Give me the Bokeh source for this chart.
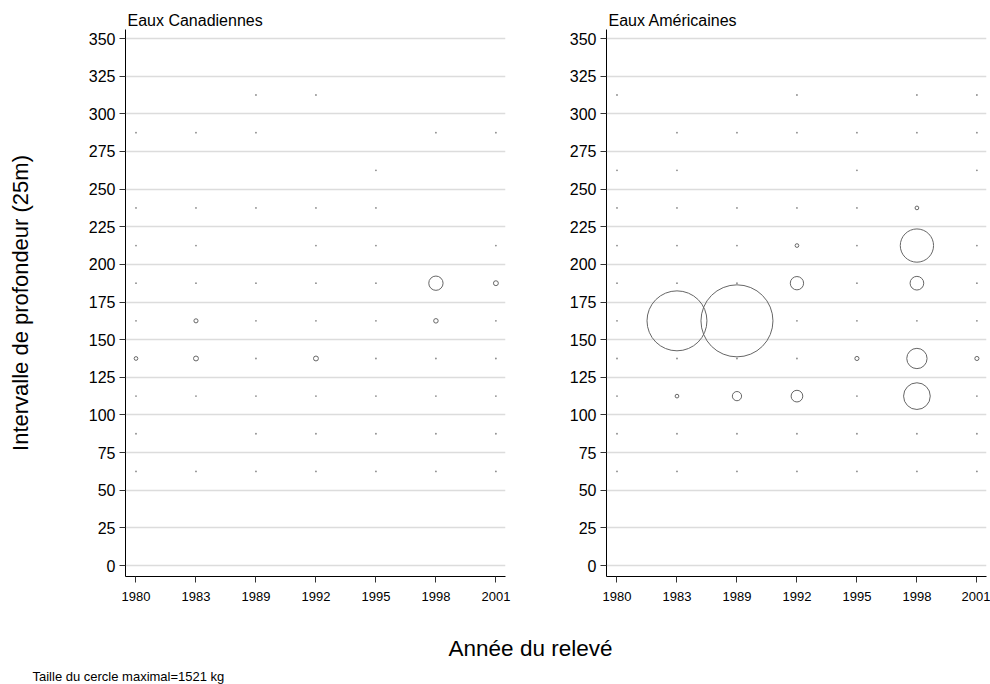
from bokeh.plotting import figure
from bokeh.models import Range1d, FixedTicker, ColumnDataSource
from bokeh.layouts import column, row
from bokeh.embed import file_html
from bokeh.resources import INLINE
from bokeh.core.properties import value

FONT = "Liberation Sans"

# Survey years (equally spaced categories on the x axis)
years = ["1980", "1983", "1989", "1992", "1995", "1998", "2001"]
# Depth-bin midpoints (25 m bins), top row first
depth_bins = [312.5, 287.5, 262.5, 237.5, 212.5, 187.5, 162.5, 137.5, 112.5, 87.5, 62.5]
depth_ticks = [0, 25, 50, 75, 100, 125, 150, 175, 200, 225, 250, 275, 300, 325, 350]

# Catch (kg) per depth bin and year; None = no tow in that cell
can_kg = [
    [None, None, 0, 0, None, None, None],
    [0, 0, 0, None, None, 0, 0],
    [None, None, None, None, 0, None, None],
    [0, 0, 0, 0, 0, None, None],
    [0, 0, None, 0, 0, None, 0],
    [0, 0, 0, 0, 0, 60, 7],
    [0, 5, 0, 0, 0, 6, 0],
    [4, 7, 0, 7, 0, 0, 0],
    [0, 0, 0, 0, 0, 0, 0],
    [0, None, 0, 0, 0, 0, 0],
    [0, 0, 0, 0, 0, 0, 0],
]
usa_kg = [
    [0, None, None, 0, None, 0, 0],
    [None, 0, 0, 0, 0, 0, 0],
    [0, 0, None, None, 0, None, 0],
    [0, 0, 0, 0, 0, 4, None],
    [0, 0, 0, 4, 0, 325, 0],
    [0, 0, 0, 52, 0, 55, 0],
    [0, 1054, 1521, 0, 0, 0, 0],
    [0, 0, 0, 0, 5, 121, 5],
    [0, 4, 25, 40, 0, 209, 0],
    [0, 0, 0, 0, 0, 0, 0],
    [0, 0, 0, 0, 0, 0, 0],
]

MAX_KG = 1521          # catch drawn with the largest circle
MAX_DIAM_PX = 72       # diameter of that circle on screen


def split_cells(grid):
    """Return (positive catches, zero catches) as column dicts."""
    pos = dict(x=[], y=[], kg=[], size=[])
    zero = dict(x=[], y=[])
    for depth, vals in zip(depth_bins, grid):
        for i, kg in enumerate(vals):
            if kg is None:
                continue
            if kg > 0:
                pos["x"].append(i)
                pos["y"].append(depth)
                pos["kg"].append(kg)
                # circle area proportional to catch
                pos["size"].append(MAX_DIAM_PX * (kg / MAX_KG) ** 0.5)
            else:
                zero["x"].append(i)
                zero["y"].append(depth)
    return pos, zero


def make_panel(title, grid, width, border_left, border_right, ylabel=None):
    p = figure(
        width=width, height=610,
        x_range=Range1d(-0.175, 6.16), y_range=Range1d(-7.3, 356),
        min_border_left=border_left, min_border_right=border_right,
        min_border_top=29, min_border_bottom=34,
        output_backend="svg", toolbar_location=None,
        title=title,
    )
    p.title.text_font = FONT
    p.title.text_font_size = "16px"
    p.title.text_font_style = "normal"
    p.title.text_color = "black"
    p.title.align = "left"
    p.title.offset = 2
    p.title.standoff = 2

    p.outline_line_color = None
    p.background_fill_color = "white"
    p.border_fill_color = "white"
    p.xgrid.grid_line_color = None
    p.ygrid.grid_line_color = "#dcdcdc"
    p.ygrid.grid_line_width = 1.6

    p.yaxis.ticker = FixedTicker(ticks=depth_ticks)
    p.xaxis.ticker = FixedTicker(ticks=list(range(len(years))))
    p.xaxis.major_label_overrides = {i: y for i, y in enumerate(years)}

    for ax in (p.xaxis[0], p.yaxis[0]):
        ax.axis_line_color = "black"
        ax.axis_line_width = 1
        ax.major_tick_line_color = "#333333"
        ax.major_tick_in = 0
        ax.major_tick_out = 6
        ax.minor_tick_line_color = None
        ax.major_label_text_font = FONT
        ax.major_label_text_color = "black"
    p.xaxis.major_label_text_font_size = "13px"
    p.xaxis.major_label_standoff = 9
    p.yaxis.major_label_text_font_size = "16px"
    p.yaxis.major_label_standoff = 4

    if ylabel:
        p.yaxis.axis_label = ylabel
        p.yaxis.axis_label_text_font = FONT
        p.yaxis.axis_label_text_font_size = "22px"
        p.yaxis.axis_label_text_font_style = "normal"
        p.yaxis.axis_label_text_color = "black"
        p.yaxis.axis_label_standoff = 53

    pos, zero = split_cells(grid)
    p.scatter("x", "y", source=ColumnDataSource(zero), marker="circle",
              size=1.8, fill_color="#8a8a8a", line_color=None)
    p.scatter("x", "y", source=ColumnDataSource(pos), marker="circle",
              size="size", fill_color=None, line_color="#666666", line_width=1)
    return p


p1 = make_panel("Eaux Canadiennes", can_kg, 540, 125, 35,
                ylabel="Intervalle de profondeur (25m)")
p2 = make_panel("Eaux Américaines", usa_kg, 450, 66, 4)

# Shared x-axis title and the note on circle scale
notes = figure(width=990, height=74, x_range=Range1d(0, 990), y_range=Range1d(0, 74),
               x_axis_type=None, y_axis_type=None, min_border=0,
               output_backend="svg", toolbar_location=None)
notes.outline_line_color = None
notes.xgrid.grid_line_color = None
notes.ygrid.grid_line_color = None
notes.text(x=[530], y=[36], text=["Année du relevé"], text_font=value(FONT),
           text_font_size="22.5px", text_align="center", text_baseline="middle",
           text_color="black")
notes.text(x=[32], y=[8], text=["Taille du cercle maximal=1521 kg"], text_font=value(FONT),
           text_font_size="13px", text_align="left", text_baseline="middle",
           text_color="black")

layout = column(row(p1, p2), notes)
open("out.html", "w").write(file_html(layout, INLINE))
